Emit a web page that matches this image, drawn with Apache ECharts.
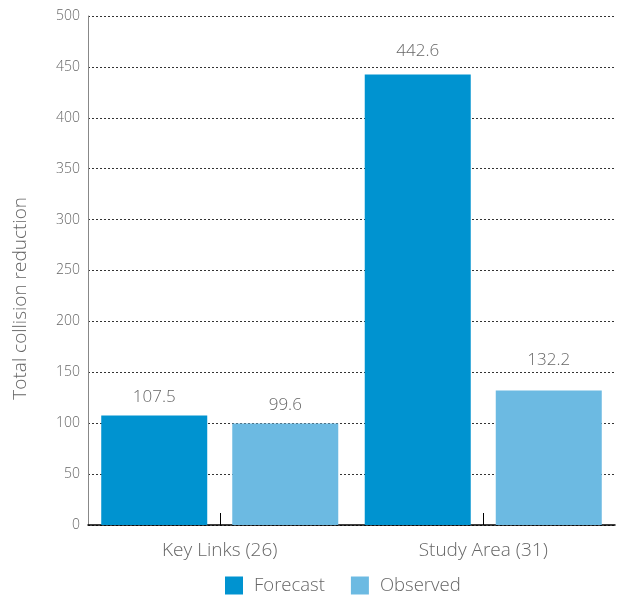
<!DOCTYPE html>
<html>
<head>
<meta charset="utf-8">
<script src="https://cdn.jsdelivr.net/npm/echarts@6/dist/echarts.min.js"></script>
<style>
  html, body { margin: 0; padding: 0; background: #fff; }
  #chart { width: 617px; height: 597px; }
</style>
</head>
<body>
<div id="chart"></div>
<script>
// Collision reduction by area: forecast vs. observed
const categories = ['Key Links (26)', 'Study Area (31)'];
const forecast = [107.5, 442.6];
const observed = [99.6, 132.2];
const seriesNames = ['Forecast', 'Observed'];
const yTicks = { min: 0, max: 500, step: 50 };

// value labels are lifted clear of the dotted grid lines where they would cross them
const forecastLabelGap = [10, 15];
const observedLabelGap = [10, 22];

const textColor = '#666';
const font = '"Open Sans", "Liberation Sans", sans-serif';
const weight = 300;

function barData(values, gaps) {
  return values.map((v, i) => ({ value: v, label: { distance: gaps[i] } }));
}

const chart = echarts.init(document.getElementById('chart'));
chart.setOption({
  animation: false,
  textStyle: { fontFamily: font, fontWeight: weight },
  grid: { left: 88, right: 2, top: 16, bottom: 72 },
  legend: {
    top: 576,
    left: 225,
    padding: 0,
    itemWidth: 18,
    itemHeight: 18,
    itemGap: 26,
    icon: 'rect',
    textStyle: { color: textColor, fontSize: 18.5, fontFamily: font, fontWeight: weight, padding: [0, 0, 0, 6] },
    data: seriesNames
  },
  xAxis: {
    type: 'category',
    data: categories,
    axisLine: { lineStyle: { color: '#000', width: 1.5 } },
    axisTick: { show: true, inside: true, alignWithLabel: true, length: 12, lineStyle: { color: '#000' } },
    axisLabel: { color: textColor, fontSize: 19, margin: 16, fontFamily: font, fontWeight: weight }
  },
  yAxis: {
    type: 'value',
    min: yTicks.min,
    max: yTicks.max,
    interval: yTicks.step,
    axisLine: { show: true, lineStyle: { color: '#888' } },
    axisTick: { show: false },
    axisLabel: { color: textColor, fontSize: 14, margin: 8, fontFamily: font, fontWeight: weight },
    splitLine: { lineStyle: { color: '#333', type: [2, 2], width: 1 } }
  },
  graphic: [{
    type: 'text',
    left: 11,
    top: 197,
    rotation: Math.PI / 2,
    style: {
      text: 'Total collision reduction',
      fill: textColor,
      font: weight + ' 19px ' + font
    }
  }],
  series: [
    {
      name: seriesNames[0],
      type: 'bar',
      data: barData(forecast, forecastLabelGap),
      barWidth: 106,
      barGap: '23.6%',
      itemStyle: { color: '#0093D0' },
      label: { show: true, position: 'top', color: textColor, fontSize: 17, fontFamily: font, fontWeight: weight }
    },
    {
      name: seriesNames[1],
      type: 'bar',
      data: barData(observed, observedLabelGap),
      barWidth: 106,
      itemStyle: { color: '#6CBAE2' },
      label: { show: true, position: 'top', color: textColor, fontSize: 17, fontFamily: font, fontWeight: weight }
    }
  ]
});
</script>
</body>
</html>
